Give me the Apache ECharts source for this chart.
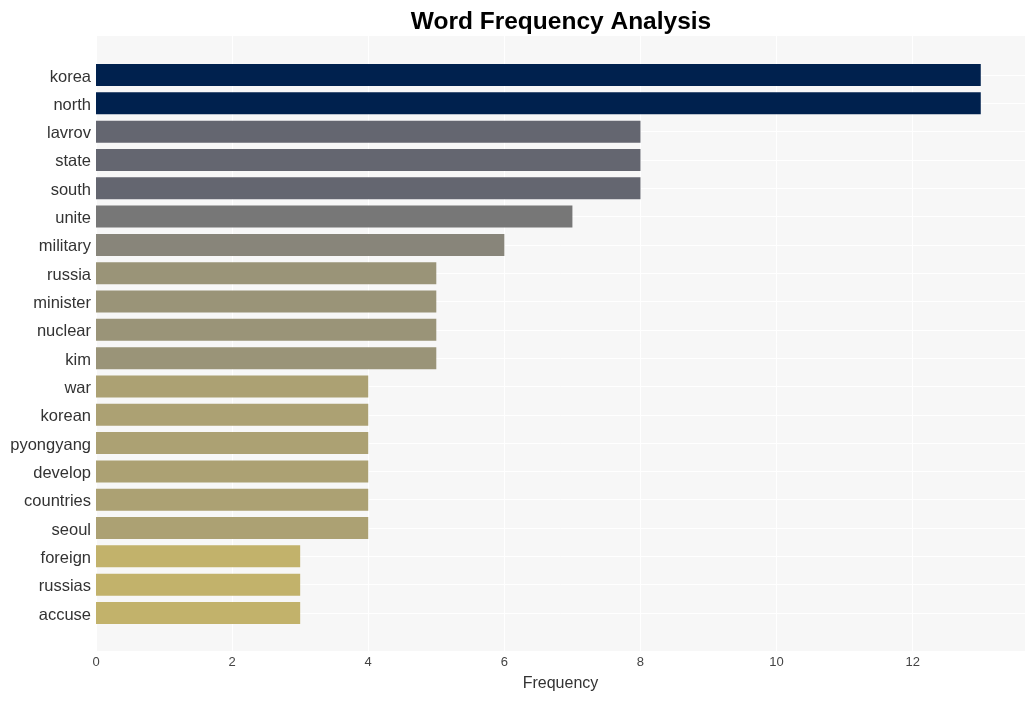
<!DOCTYPE html>
<html>
<head>
<meta charset="utf-8">
<script src="https://cdn.jsdelivr.net/npm/echarts@6/dist/echarts.min.js"></script>
<style>html,body{margin:0;padding:0;background:#fff}#c{width:1036px;height:701px}</style>
</head>
<body>
<div id="c"></div>
<script>
const words = ["korea","north","lavrov","state","south","unite","military","russia","minister","nuclear","kim","war","korean","pyongyang","develop","countries","seoul","foreign","russias","accuse"];
const counts = [13,13,8,8,8,7,6,5,5,5,5,4,4,4,4,4,4,3,3,3];
const barColors = ["#00214e","#00214e","#646670","#646670","#646670","#777777","#88857a","#9a9478","#9a9478","#9a9478","#9a9478","#aca173","#aca173","#aca173","#aca173","#aca173","#aca173","#c2b26b","#c2b26b","#c2b26b"];

const chart = echarts.init(document.getElementById('c'), null, {renderer:'canvas'});
chart.setOption({
  backgroundColor:'#ffffff',
  animation:false,
  title:{text:'Word Frequency Analysis', left:556, top:5, textAlign:'center',
    textStyle:{fontFamily:'Liberation Sans, Arial, sans-serif', fontSize:24.5, fontWeight:'bold', color:'#000'}},
  grid:[
    {left:96, right:11, top:36, bottom:50, show:true, backgroundColor:'#f7f7f7', borderWidth:0},
    {left:96, right:11, top:75, bottom:88, show:false}
  ],
  xAxis:[
    {gridIndex:0, type:'value', min:0, max:13.65, interval:2,
     axisLine:{show:false}, axisTick:{show:false},
     splitLine:{show:true, lineStyle:{color:'#ffffff', width:1}},
     axisLabel:{color:'#444', fontSize:13, margin:5, fontFamily:'Liberation Sans, Arial, sans-serif',
       formatter:function(v){return v>13?'':v;}},
     name:'Frequency', nameLocation:'middle', nameGap:25,
     nameTextStyle:{color:'#333', fontSize:16, fontFamily:'Liberation Sans, Arial, sans-serif'}},
    {gridIndex:1, type:'value', min:0, max:13.65, show:false, splitLine:{show:false}}
  ],
  yAxis:[
    {gridIndex:0, type:'value', show:false, splitLine:{show:false}},
    {gridIndex:1, type:'category', data:words, inverse:true, boundaryGap:false,
     axisLine:{show:false}, axisTick:{show:false},
     splitLine:{show:true, lineStyle:{color:'#ffffff', width:1}},
     axisLabel:{margin:5, formatter:function(v){return '{a|'+v+'}';},
       rich:{a:{color:'#333', fontSize:16.5, padding:[4,0,0,0], fontFamily:'Liberation Sans, Arial, sans-serif'}}}}
  ],
  series:[{
    type:'bar', xAxisIndex:1, yAxisIndex:1, barWidth:22,
    data:counts.map((v,i)=>({value:v, itemStyle:{color:barColors[i]}}))
  }]
});
</script>
</body>
</html>
